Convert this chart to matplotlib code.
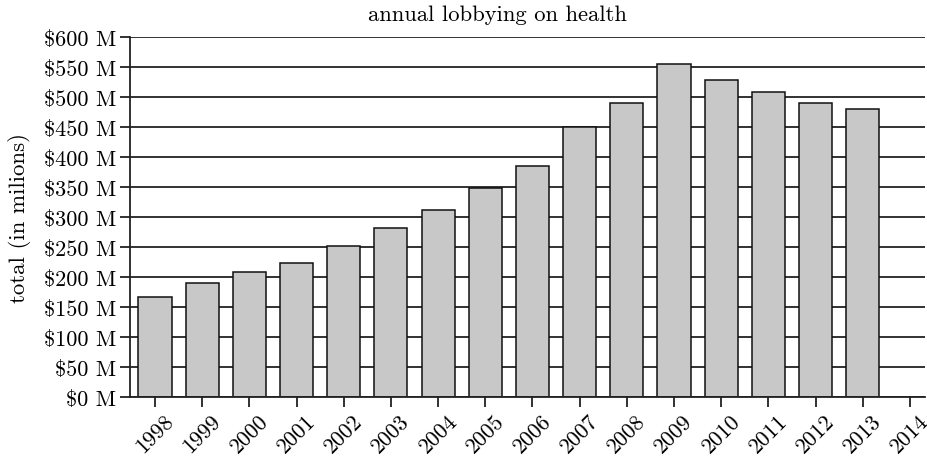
import matplotlib
matplotlib.use("Agg")
import matplotlib.pyplot as plt

plt.rcParams['font.family'] = ['cmr10', 'DejaVu Serif']
plt.rcParams['axes.unicode_minus'] = False
plt.rcParams['mathtext.fontset'] = 'cm'

years = [1998, 1999, 2000, 2001, 2002, 2003, 2004, 2005, 2006, 2007,
         2008, 2009, 2010, 2011, 2012, 2013]
tick_years = years + [2014]
totals = [167, 190, 208, 224, 252, 281, 311, 349, 385, 450,
          490, 555, 528, 508, 490, 480]
yticks = list(range(0, 601, 50))
ytick_labels = [f"${v} M" for v in yticks]

fig = plt.figure(figsize=(9.27, 4.60), dpi=100)
ax = fig.add_axes([130/927, 1-398/460, 795/927, 360/460])

ax.set_axisbelow(True)
ax.yaxis.grid(True, color='#222222', linewidth=1.3)
ax.bar(years, totals, width=0.7, color='#c8c8c8', edgecolor='#111111', linewidth=1.1)

ax.set_xlim(1997.47, 2014.32)
ax.set_ylim(0, 600)
ax.set_yticks(yticks)
ax.set_yticklabels(ytick_labels)
ax.set_xticks(tick_years)
ax.set_xticklabels([str(y) for y in tick_years], rotation=45, ha='center')

for s in ['top', 'right']:
    ax.spines[s].set_visible(False)
ax.spines['left'].set_linewidth(1.3)
ax.spines['bottom'].set_linewidth(1.3)
ax.spines['left'].set_color('#222222')
ax.spines['bottom'].set_color('#222222')

ax.tick_params(axis='y', length=7, width=1.3, labelsize=16, pad=3, color='#222222')
ax.tick_params(axis='x', length=7, width=1.3, labelsize=16, pad=3, color='#222222')

ax.set_ylabel('total (in milions)', fontsize=16.5, labelpad=9)
ax.set_title('annual lobbying on health', fontsize=16.3, x=0.462, y=1.0, pad=12)

fig.savefig('out.png', dpi=100)
